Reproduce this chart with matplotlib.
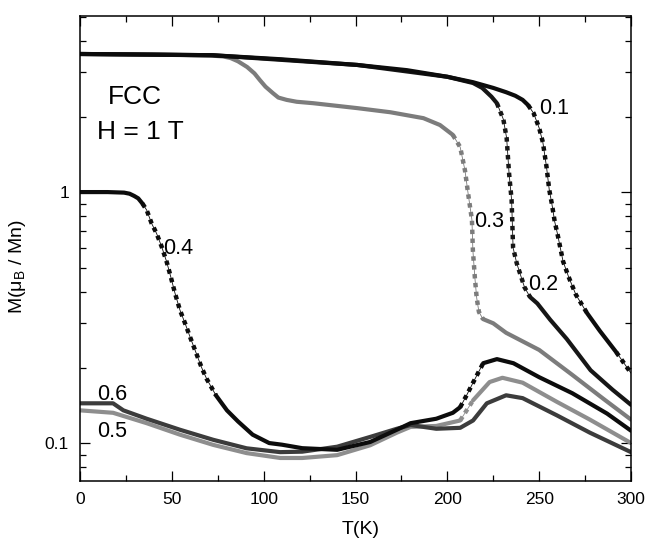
import numpy as np
import matplotlib.pyplot as plt
from matplotlib.ticker import FixedLocator, NullFormatter, FixedFormatter, MultipleLocator

plt.rcParams['font.family'] = ['Liberation Sans', 'DejaVu Sans']
plt.rcParams['mathtext.default'] = 'regular'

# ---- data: temperature (K) and moment (muB/Mn) ----
T_01 = [0, 40, 72, 110, 151, 178, 200, 214, 225, 232, 237, 241, 244, 247, 250, 252, 254,
        255.5, 257, 258.5, 260, 261.5, 263, 266, 270, 276, 283, 292, 300]
M_01 = [3.55, 3.53, 3.51, 3.38, 3.21, 3.06, 2.88, 2.74, 2.60, 2.50, 2.42, 2.33, 2.22,
        2.06, 1.80, 1.58, 1.26, 1.02, 0.89, 0.76, 0.68, 0.60, 0.53, 0.46, 0.39, 0.33,
        0.28, 0.23, 0.19]

T_02 = [0, 72, 151, 200, 214, 219, 224, 227, 230.5, 232.3, 233.6, 235, 235.8, 237.8,
        239.5, 242, 245, 249, 256, 265, 278, 290, 300]
M_02 = [3.55, 3.51, 3.21, 2.88, 2.72, 2.60, 2.40, 2.26, 1.95, 1.64, 1.19, 0.93, 0.60,
        0.52, 0.476, 0.418, 0.382, 0.36, 0.31, 0.26, 0.195, 0.163, 0.142]

T_03 = [0, 40, 71, 78, 82, 86, 91, 95, 98, 101, 105, 108, 112.5, 118, 127, 151, 169, 187,
        196, 203, 207, 209.6, 211.2, 213.4, 213.9, 215, 216, 217.2, 219.4, 225, 232, 250,
        268, 285, 300]
M_03 = [3.55, 3.53, 3.50, 3.47, 3.42, 3.32, 3.15, 2.97, 2.79, 2.63, 2.48, 2.38, 2.33,
        2.29, 2.26, 2.16, 2.08, 1.97, 1.85, 1.69, 1.51, 1.22, 1.0, 0.774, 0.588, 0.455,
        0.378, 0.333, 0.312, 0.30, 0.275, 0.235, 0.187, 0.15, 0.124]

T_04 = [0, 15, 24, 27, 29.5, 31.7, 34, 36.3, 39, 41.7, 44.5, 47.2, 49.4, 51.7, 54.4,
        57.2, 59.9, 62.6, 66.2, 69, 74, 80, 86, 94, 103, 110, 121, 140, 158, 172.5, 180,
        194, 203, 207, 210.5, 214, 219.5, 227, 236, 250, 268, 287, 300]
M_04 = [1.0, 1.0, 0.995, 0.985, 0.965, 0.944, 0.90, 0.848, 0.75, 0.684, 0.605, 0.527,
        0.46, 0.396, 0.339, 0.30, 0.265, 0.235, 0.20, 0.18, 0.155, 0.135, 0.122, 0.108,
        0.10, 0.0985, 0.0954, 0.094, 0.101, 0.113, 0.12, 0.125, 0.132, 0.139, 0.155,
        0.174, 0.208, 0.216, 0.208, 0.183, 0.158, 0.131, 0.112]

T_05 = [0, 18, 36.3, 54.4, 72.6, 90.7, 109, 121, 140, 158, 172.5, 180, 194, 207, 214,
        223, 230, 241, 259.6, 277.6, 300]
M_05 = [0.135, 0.132, 0.12, 0.108, 0.0983, 0.0912, 0.0872, 0.0872, 0.0895, 0.098, 0.11,
        0.116, 0.117, 0.123, 0.148, 0.175, 0.182, 0.174, 0.146, 0.124, 0.10]

T_06 = [0, 18, 23.6, 36.3, 54.4, 72.6, 90.7, 109, 121, 140, 158, 172.5, 180, 194, 207,
        214, 221.5, 232, 241, 259.6, 277.6, 300]
M_06 = [0.144, 0.144, 0.135, 0.125, 0.113, 0.103, 0.0953, 0.092, 0.0924, 0.0967, 0.1058,
        0.114, 0.118, 0.114, 0.115, 0.123, 0.144, 0.155, 0.151, 0.129, 0.11, 0.092]

# figure geometry (pixels at dpi 100)
W, H = 646, 544
L, R, B, TOP = 80, 631, 481, 16
XMIN, XMAX = 0, 300
YMIN, YMAX = 0.0706, 5.03

fig = plt.figure(figsize=(W / 100, H / 100), dpi=100)
ax = fig.add_axes([L / W, (H - B) / H, (R - L) / W, (B - TOP) / H])
ax.set_yscale('log')
ax.set_xlim(XMIN, XMAX)
ax.set_ylim(YMIN, YMAX)

px_per_K = (R - L) / (XMAX - XMIN)
px_per_dec = (B - TOP) / (np.log10(YMAX) - np.log10(YMIN))


def draw(T, M, color):
    # steep stretches look like sparse square markers on a thin line,
    # flat stretches like a thick solid band
    T = np.asarray(T, float)
    M = np.asarray(M, float)
    dx = np.diff(T) * px_per_K
    dy = np.diff(np.log10(M)) * px_per_dec
    steep = np.abs(dy) > 1.4 * np.abs(dx)
    i, n = 0, len(steep)
    while i < n:
        j = i
        while j < n and steep[j] == steep[i]:
            j += 1
        tt, mm = T[i:j + 1], M[i:j + 1]
        if steep[i]:
            ax.plot(tt, mm, color=color, lw=0.6)
            ax.plot(tt, mm, color=color, lw=3.2, linestyle=(0, (1, 1.0)),
                    dash_capstyle='butt')
        else:
            ax.plot(tt, mm, color=color, lw=3.0, solid_capstyle='round',
                    solid_joinstyle='round')
        i = j


draw(T_03, M_03, '#7c7c7c')
draw(T_02, M_02, '#161616')
draw(T_01, M_01, '#0c0c0c')
draw(T_05, M_05, '#8e8e8e')
draw(T_06, M_06, '#3c3c3c')
draw(T_04, M_04, '#0c0c0c')

# curve labels
lab_fs = 15.5
ax.text(249.8, 2.16, '0.1', fontsize=lab_fs, ha='left', va='center')
ax.text(244, 0.43, '0.2', fontsize=lab_fs, ha='left', va='center')
ax.text(214.5, 0.76, '0.3', fontsize=lab_fs, ha='left', va='center')
ax.text(45.5, 0.595, '0.4', fontsize=lab_fs, ha='left', va='center')
ax.text(9.3, 0.111, '0.5', fontsize=lab_fs, ha='left', va='center')
ax.text(9.3, 0.156, '0.6', fontsize=lab_fs, ha='left', va='center')
ax.text(15.2, 2.39, 'FCC', fontsize=19, ha='left', va='center')
ax.text(9.3, 1.735, 'H = 1 T', fontsize=19, ha='left', va='center')

# axes styling
ax.xaxis.set_major_locator(MultipleLocator(50))
ax.xaxis.set_minor_locator(MultipleLocator(25))
ax.yaxis.set_major_locator(FixedLocator([0.1, 1]))
ax.yaxis.set_major_formatter(FixedFormatter(['0.1', '1']))
minors = [k * 0.01 for k in range(7, 10)] + [k * 0.1 for k in range(2, 10)] + [k * 1.0 for k in range(2, 6)]
ax.yaxis.set_minor_locator(FixedLocator(minors))
ax.yaxis.set_minor_formatter(NullFormatter())

ax.tick_params(which='both', direction='in', top=True, right=True, width=0.9,
               labelsize=12.5)
ax.tick_params(which='major', length=7.5, pad=8)
ax.tick_params(which='minor', length=4.5)
for s in ax.spines.values():
    s.set_linewidth(1.1)

ax.set_xlabel('T(K)', fontsize=14)
ax.set_ylabel('M(μ$_B$ / Mn)', fontsize=14)
ax.xaxis.set_label_coords(0.51, -0.085)
ax.yaxis.set_label_coords(-0.094, 0.46)

fig.savefig('out.png', dpi=100)
